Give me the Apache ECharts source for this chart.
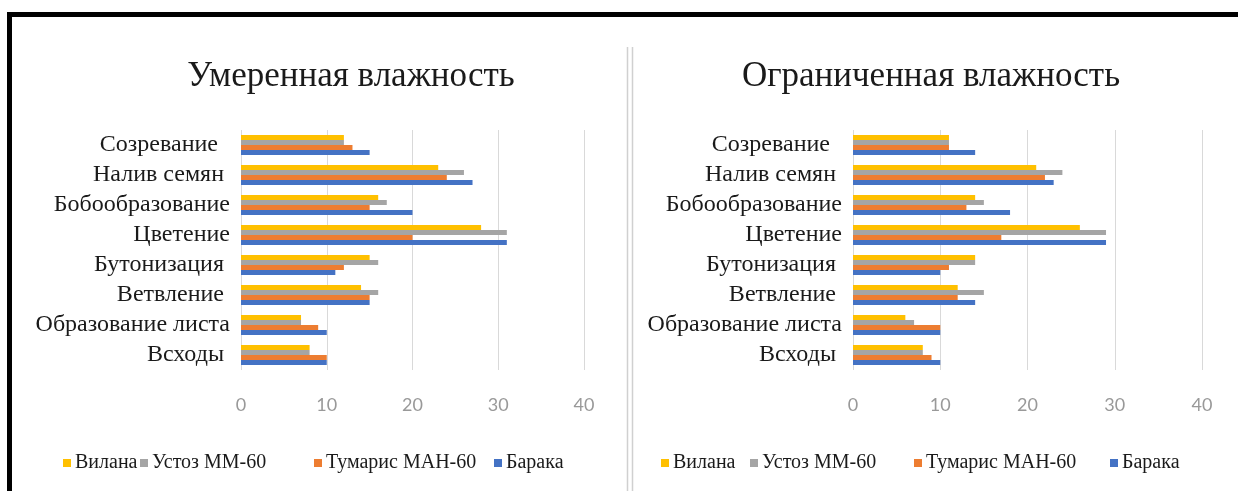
<!DOCTYPE html>
<html><head><meta charset="utf-8">
<script src="https://cdn.jsdelivr.net/npm/echarts@6/dist/echarts.min.js"></script>
<style>html,body{margin:0;padding:0;background:#fff}#c{width:1238px;height:491px}</style>
</head><body><div id="c"></div>
<script>
// categories bottom -> top
const categories = ['Всходы ', 'Образование листа', 'Ветвление ', 'Бутонизация ', 'Цветение', 'Бобообразование', 'Налив семян ', 'Созревание  '];
const seriesNames = ['Вилана', 'Устоз ММ-60', 'Тумарис МАН-60', 'Барака'];
const seriesColors = ['#FFC000', '#A5A5A5', '#ED7D31', '#4472C4'];
const titles = ['Умеренная влажность', 'Ограниченная влажность'];
const xTicks = [0, 10, 20, 30, 40];

// Умеренная влажность
const modVilana = [8, 7, 14, 15, 28, 16, 23, 12];
const modUstoz = [8, 7, 16, 16, 31, 17, 26, 12];
const modTumaris = [10, 9, 15, 12, 20, 15, 24, 13];
const modBaraka = [10, 10, 15, 11, 31, 20, 27, 15];
// Ограниченная влажность
const limVilana = [8, 6, 12, 14, 26, 14, 21, 11];
const limUstoz = [8, 7, 15, 14, 29, 15, 24, 11];
const limTumaris = [9, 10, 12, 11, 17, 13, 22, 11];
const limBaraka = [10, 10, 14, 10, 29, 18, 23, 14];

const panels = [
  [modVilana, modUstoz, modTumaris, modBaraka],
  [limVilana, limUstoz, limTumaris, limBaraka]
];

const grids = [
  {left: 241, top: 130, width: 343, height: 240},
  {left: 853, top: 130, width: 349, height: 240}
];
const legendX = [[63, 140, 314, 494], [661, 750, 914, 1110]];
const serif = 'Liberation Serif';

const chart = echarts.init(document.getElementById('c'), null, {renderer: 'canvas'});

const series = [];
panels.forEach((vals, p) => {
  for (let i = 0; i < 4; i++) {
    series.push({
      type: 'bar', name: seriesNames[i], xAxisIndex: p, yAxisIndex: p,
      data: vals[i], itemStyle: {color: seriesColors[i]},
      barGap: '0%', barCategoryGap: '33%', silent: true
    });
  }
});

const legends = [];
legendX.forEach(xs => xs.forEach((x, i) => {
  legends.push({data: [seriesNames[i]], left: x - 5, top: 448, itemWidth: 8, itemHeight: 8, icon: 'rect',
    padding: 5, textStyle: {fontFamily: serif, fontSize: 20, color: '#1a1a1a', padding: [0, 0, 0, -1]}});
}));

const option = {
  animation: false,
  color: seriesColors,
  title: [
    {text: titles[0], left: 346, top: 54, textAlign: 'center',
     textStyle: {fontFamily: serif, fontSize: 35, fontWeight: 'normal', color: '#1a1a1a'}},
    {text: titles[1], left: 926, top: 54, textAlign: 'center',
     textStyle: {fontFamily: serif, fontSize: 35, fontWeight: 'normal', color: '#1a1a1a'}}
  ],
  legend: legends,
  grid: grids,
  xAxis: grids.map((g, p) => ({
    type: 'value', gridIndex: p, min: xTicks[0], max: xTicks[xTicks.length - 1], interval: 10,
    axisLine: {show: false}, axisTick: {show: false},
    splitLine: {show: true, lineStyle: {color: '#d9d9d9', width: 1}},
    axisLabel: {margin: 26, fontFamily: 'Lato', fontSize: 18, color: '#999999'}
  })),
  yAxis: grids.map((g, p) => ({
    type: 'category', gridIndex: p, data: categories,
    axisLine: {show: false}, axisTick: {show: false},
    axisLabel: {interval: 0, margin: 11, fontFamily: serif, fontSize: 24, color: '#1a1a1a'}
  })),
  series: series,
  graphic: [
    {type: 'rect', shape: {x: 7, y: 12, width: 1240, height: 5}, style: {fill: '#000'}},
    {type: 'rect', shape: {x: 7, y: 12, width: 5, height: 490}, style: {fill: '#000'}},
    {type: 'line', shape: {x1: 627.5, y1: 47, x2: 627.5, y2: 491}, style: {stroke: '#d0d0d0', lineWidth: 1.5}},
    {type: 'line', shape: {x1: 632.5, y1: 47, x2: 632.5, y2: 491}, style: {stroke: '#d0d0d0', lineWidth: 1.5}}
  ]
};
chart.setOption(option);
</script>
</body></html>
